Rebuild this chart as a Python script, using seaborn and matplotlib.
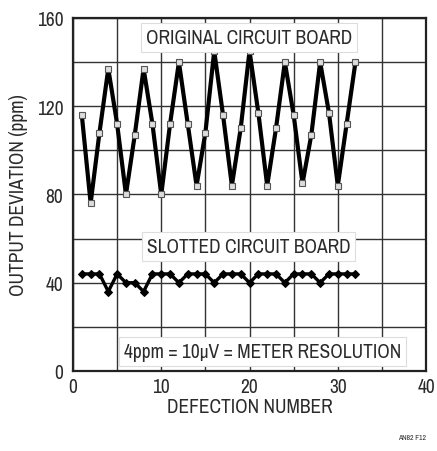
import seaborn as sns
import pandas as pd
import numpy as np
import matplotlib.pyplot as plt
from matplotlib import font_manager

# defection number 1..32
defection = list(range(1, 33))
original = [116, 76, 108, 137, 112, 80, 107, 137, 112, 80, 112, 140, 112, 84, 108, 145,
            116, 84, 110, 145, 117, 84, 110, 140, 116, 85, 107, 140, 117, 84, 112, 140]
slotted = [44, 44, 44, 36, 44, 40, 40, 36, 44, 44, 44, 40, 44, 44, 44, 40,
           44, 44, 44, 40, 44, 44, 44, 40, 44, 44, 44, 40, 44, 44, 44, 44]

sns.set_style('white')
names = sorted(set(f.name for f in font_manager.fontManager.ttflist))
cond = [n for n in names if 'Narrow' in n or 'Condensed' in n]
plt.rcParams['font.family'] = cond[:1] + ['DejaVu Sans']
plt.rcParams['font.stretch'] = 'condensed'
ink = '#2b2b2b'
plt.rcParams['text.color'] = ink
plt.rcParams['axes.labelcolor'] = ink
plt.rcParams['xtick.color'] = ink
plt.rcParams['ytick.color'] = ink

fig = plt.figure(figsize=(4.37, 4.52), dpi=100)
ax = fig.add_axes([0.167, 0.177, 0.808, 0.781])

df = pd.DataFrame({'x': defection, 'orig': original, 'slot': slotted})

sns.lineplot(data=df, x='x', y='orig', ax=ax, color='black', linewidth=3.0,
             marker='s', markersize=4.5, markerfacecolor='#dddddd',
             markeredgecolor='#555555', markeredgewidth=0.8, zorder=3)
sns.lineplot(data=df, x='x', y='slot', ax=ax, color='black', linewidth=2.4,
             marker='D', markersize=3.8, markerfacecolor='black',
             markeredgecolor='black', zorder=3)

ax.set_xlim(0, 40)
ax.set_ylim(0, 160)
ax.set_xticks(np.arange(0, 41, 10))
ax.set_yticks(np.arange(0, 161, 40))
ax.set_xticks(np.arange(0, 41, 5), minor=True)
ax.set_yticks(np.arange(0, 161, 20), minor=True)
ax.grid(True, which='both', color='#333333', linewidth=1.0)
ax.tick_params(axis='both', which='both', length=0, labelsize=14)
ax.tick_params(axis='y', pad=7)
ax.tick_params(axis='x', pad=4)
for s in ax.spines.values():
    s.set_color('#222222')
    s.set_linewidth(1.6)

ax.set_xlabel('DEFECTION NUMBER', fontsize=14, labelpad=1)
ax.set_ylabel('OUTPUT DEVIATION (ppm)', fontsize=14, labelpad=6)

box = dict(boxstyle='square,pad=0.25', facecolor='white', edgecolor='#dddddd', linewidth=0.8)
ax.text(19.9, 151, 'ORIGINAL CIRCUIT BOARD', ha='center', va='center', fontsize=14,
        bbox=box, zorder=4)
ax.text(19.9, 56.5, 'SLOTTED CIRCUIT BOARD', ha='center', va='center', fontsize=14,
        bbox=box, zorder=4)
ax.text(21.5, 9, '4ppm = 10\u03bcV = METER RESOLUTION', ha='center', va='center',
        fontsize=14, bbox=box, zorder=4)

fig.text(0.975, 0.025, 'AN82 F12', ha='right', va='bottom', fontsize=5.5)

fig.savefig('out.png', dpi=100)
